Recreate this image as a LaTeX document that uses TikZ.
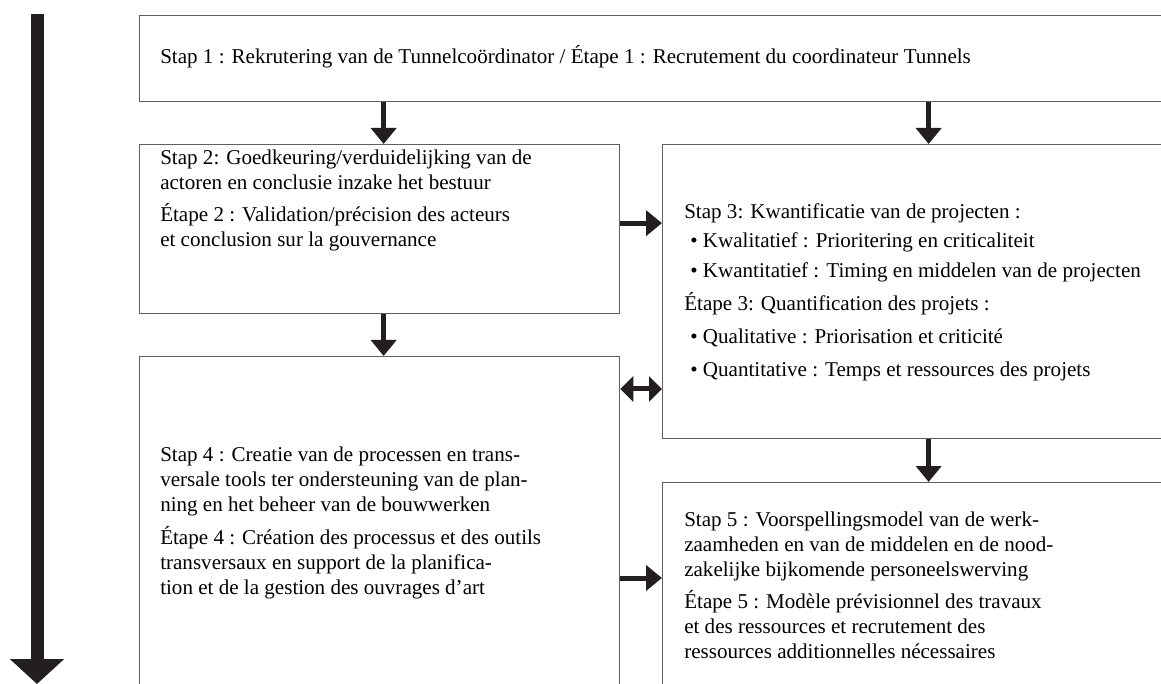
\documentclass[tikz,border=0pt]{standalone}
\usepackage{fontspec}
\setmainfont{Liberation Serif}
\usetikzlibrary{arrows.meta}
\begin{document}
\begin{tikzpicture}[x=0.75pt, y=-0.75pt,
        box/.style={draw=boxgrey, line width=0.975pt, inner sep=0pt, anchor=north west},
        steptext/.style={anchor=base west, align=left, inner sep=0pt,
            font=\fontsize{15.8}{18.75}\selectfont},
        flow/.style={draw=arrowblack, line width=3.75pt, -{Triangle[width=18.75pt, length=12pt]}},
        biflow/.style={draw=arrowblack, line width=3.75pt, {Triangle[width=18.75pt, length=9.75pt]}-{Triangle[width=18.75pt, length=9.75pt]}},
        timeflow/.style={draw=arrowblack, line width=9.75pt, -{Triangle[width=39.75pt, length=18.75pt]}}]
        \definecolor{boxgrey}{RGB}{96,96,96}
        \definecolor{arrowblack}{RGB}{35,31,32}

        \useasboundingbox (0,0) rectangle (1161,684);
        \clip (0,0) rectangle (1161,684);

        % time line on the left
        \coordinate (tstart) at (37,14);
        \coordinate (tend) at (37,684);
        \draw[timeflow] (tstart) -- (tend);

        % boxes
        \node[box, minimum width=791.25pt, minimum height=64.5pt] (b1) at (139,15) {};
        \node[box, minimum width=360pt, minimum height=126.75pt] (b2) at (139,144) {};
        \node[box, minimum width=399pt, minimum height=220.5pt] (b3) at (662,144) {};
        \node[box, minimum width=360pt, minimum height=273pt] (b4) at (139,356) {};
        \node[box, minimum width=399pt, minimum height=178.5pt] (b5) at (662,482) {};

        % texts (placed at the baseline of their last line)
        \node[steptext] (t1) at (160,64) {Stap 1 : Rekrutering van de Tunnelco\"ordinator / \'Etape 1 : Recrutement du coordinateur Tunnels};
        \node[steptext] (t2) at (160,247) {Stap 2: Goedkeuring/verduidelijking van de\\
            actoren en conclusie inzake het bestuur\\[5.25pt]
            \'Etape 2 : Validation/pr\'ecision des acteurs\\
            et conclusion sur la gouvernance};
        \node[steptext] (t3) at (684,377) {Stap 3: Kwantificatie van de projecten :\\[3.75pt]
            \hspace{4.5pt}\textbullet\ Kwalitatief : Prioritering en criticaliteit\\[3.75pt]
            \hspace{4.5pt}\textbullet\ Kwantitatief : Timing en middelen van de projecten\\[6pt]
            \'Etape 3: Quantification des projets :\\[6pt]
            \hspace{4.5pt}\textbullet\ Qualitative : Priorisation et criticit\'e\\[6pt]
            \hspace{4.5pt}\textbullet\ Quantitative : Temps et ressources des projets};
        \node[steptext] (t4) at (160,594) {Stap 4 : Creatie van de processen en trans-\\
            versale tools ter ondersteuning van de plan-\\
            ning en het beheer van de bouwwerken\\[6pt]
            \'Etape 4 : Cr\'eation des processus et des outils\\
            transversaux en support de la planifica-\\
            tion et de la gestion des ouvrages d'art};
        \node[steptext] (t5) at (684,658) {Stap 5 : Voorspellingsmodel van de werk-\\
            zaamheden en van de middelen en de nood-\\
            zakelijke bijkomende personeelswerving\\[5.25pt]
            \'Etape 5 : Mod\`ele pr\'evisionnel des travaux\\
            et des ressources et recrutement des\\
            ressources additionnelles n\'ecessaires};

        % connectors
        \coordinate (m23) at ([yshift=4.5pt]b2.east);
        \coordinate (m34) at ([yshift=-24.75pt]b4.north east);
        \coordinate (m45) at ([yshift=-72pt]b5.north west);
        \draw[flow] ([xshift=3pt]b2.north |- b1.south) -- ([xshift=3pt]b2.north);
        \draw[flow] (b1.south -| b3.north) -- (b3.north);
        \draw[flow] (m23) -- (m23 -| b3.west);
        \draw[flow] ([xshift=3pt]b2.south) -- ([xshift=3pt]b2.south |- b4.north);
        \draw[biflow] (m34) -- (m34 -| b3.west);
        \draw[flow] (b3.south) -- (b3.south |- b5.north);
        \draw[flow] (m45 -| b4.east) -- (m45);
\end{tikzpicture}
\end{document}
